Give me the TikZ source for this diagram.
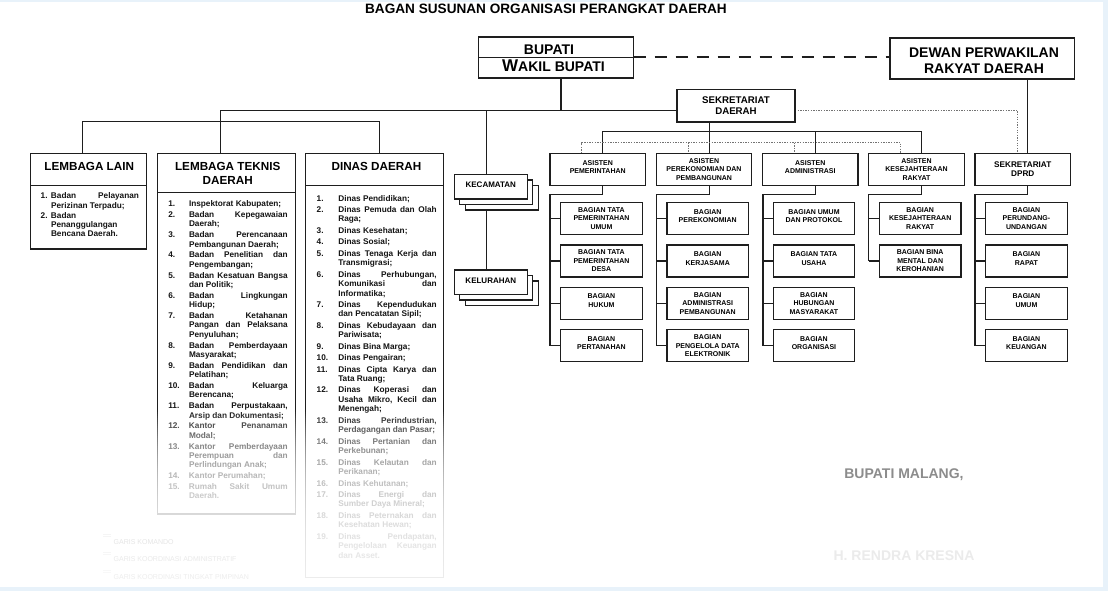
\documentclass[tikz,border=0pt]{standalone}
\usepackage{fontspec}
\setmainfont{Liberation Sans}
\definecolor{linec}{HTML}{1E1E1E}
\definecolor{framec}{HTML}{E8F2FA}
\pgfdeclarelayer{back}
\pgfdeclarelayer{bg}
\pgfsetlayers{back,bg,main}
\newlength\itemind
\newcommand\itm[2]{\par\hangindent=\itemind\hangafter=1\noindent\makebox[\itemind][l]{#1}#2}
\newcommand\mklist[5]{\parbox[t]{#1}{\fontsize{8.25}{#3}\selectfont\bfseries\setlength\itemind{#2}\setlength\parskip{#4}\setlength\parindent{0pt}#5\par}}
\begin{document}
\begin{tikzpicture}[x=1pt,y=-1pt,
  every node/.style={inner sep=0pt, outer sep=0pt},
  bx/.style={draw=linec, line width=1.2pt, fill=white, align=center, text=black, font=\bfseries\fontsize{7}{8.5}\selectfont},
  asbox/.style={bx, minimum width=95.5pt, minimum height=32.2pt},
  bgbox/.style={bx, minimum width=81.5pt, minimum height=32pt},
  stackbox/.style={draw=linec, line width=1.2pt, fill=white, minimum width=73pt, minimum height=24.5pt, font=\bfseries\fontsize{8}{9.6}\selectfont},
  bigbox/.style={draw=linec, line width=1.3pt, fill=white},
  cn/.style={draw=linec, line width=1.1pt},
  dotl/.style={draw=black!55, line width=0.9pt, dash pattern=on 1.3pt off 1.3pt},
  hdr/.style={font=\bfseries\fontsize{11.7}{14}\selectfont, text=black},
  lst/.style={anchor=base west, text=black!92},
]
% background and frame
\begin{pgfonlayer}{back}
\fill[framec] (0,0) rectangle (1108,591);
\fill[white] (0,2) rectangle (1103,587);
\end{pgfonlayer}
\useasboundingbox (0,0) rectangle (1108,591);

% title
\node[font=\bfseries\fontsize{13.6}{16}\selectfont] (title) at (546,9) {BAGAN SUSUNAN ORGANISASI PERANGKAT DAERAH};

% helper coordinates
\coordinate (bdiv) at (0,57.3);
\coordinate (hy) at (0,110.5);
\coordinate (vbup) at (561,0);
\coordinate (hl) at (220.7,110.5);
\coordinate (h2a) at (82.9,121.7);
\coordinate (h2b) at (379.6,121.7);
\coordinate (vk) at (486.4,0);
\coordinate (hA) at (602.8,131.7);
\coordinate (hD) at (921.55,131.7);
\coordinate (vA) at (602.8,0);
\coordinate (vB) at (709.05,0);
\coordinate (vC) at (815.3,0);
\coordinate (vD) at (921.55,0);
\coordinate (vE) at (1027.8,0);
\coordinate (bkA) at (550,194.3);
\coordinate (bkB) at (656.5,194.3);
\coordinate (bkC) at (763,194.3);
\coordinate (bkD) at (868.5,194.3);
\coordinate (bkE) at (975,194.3);
\coordinate (tA) at (581.8,142.7);
\coordinate (tB) at (688.05,142.7);
\coordinate (tC) at (794.3,142.7);
\coordinate (tD) at (900.55,142.7);
\coordinate (sdp) at (1017.7,110.5);
\coordinate (dv1) at (0,185.3);
\coordinate (dv2) at (0,192.7);

% top boxes
\node[bigbox, line width=1.6pt, minimum width=155pt, minimum height=40.7pt] (bupati) at (556,57.65) {};
\draw[linec, line width=1.3pt] (bupati.west |- bdiv) -- (bupati.east |- bdiv);
\node[font=\bfseries\fontsize{14}{16}\selectfont] (tbup) at (549,49.5) {BUPATI};
\node[font=\bfseries\fontsize{14}{16}\selectfont] (twak) at (553.5,65.5) {{\fontsize{17}{17}\selectfont W}AKIL BUPATI};

\node[bigbox, line width=1.8pt, minimum width=184.8pt, minimum height=40.7pt] (dprd) at (982,58.65) {};
\node[font=\bfseries\fontsize{14}{16.3}\selectfont, align=center] (tdprd) at (984,60.85) {DEWAN PERWAKILAN\\RAKYAT DAERAH};

\node[bx, font=\bfseries\fontsize{9.7}{11.3}\selectfont, minimum width=118pt, minimum height=32.7pt] (sekda) at (736,105.65) {SEKRETARIAT\\DAERAH};

% left column boxes
\node[bigbox, line width=1.2pt, minimum width=116pt, minimum height=95.7pt] (ll) at (88.4,201.15) {};
\node[bigbox, line width=1.2pt, minimum width=138.4pt, minimum height=360.7pt] (lt) at (226.6,333.65) {};
\node[bigbox, line width=1.2pt, minimum width=138.4pt, minimum height=424pt] (dd) at (374.6,365.3) {};
\draw[linec, line width=1.2pt] (ll.west |- dv1) -- (ll.east |- dv1);
\draw[linec, line width=1.2pt] (lt.west |- dv2) -- (lt.east |- dv2);
\draw[linec, line width=1.2pt] (dd.west |- dv1) -- (dd.east |- dv1);
\node[hdr] (hll) at (89.2,166.7) {LEMBAGA LAIN};
\node[hdr, align=center] (hlt) at (227.7,173) {LEMBAGA TEKNIS\\DAERAH};
\node[hdr] (hdd) at (376.4,166.7) {DINAS DAERAH};

\node[lst] (lsll) at (40.7,198.7) {\mklist{98.3pt}{10.3pt}{9.3pt}{1pt}{%
\itm{1.}{Badan\hfill Pelayanan\\Perizinan Terpadu;}%
\itm{2.}{Badan\\Penanggulangan\\Bencana Daerah.}}};

\node[lst] (lslt) at (168.3,206.7) {\mklist{119.4pt}{20.7pt}{9.4pt}{1.4pt}{%
\itm{1.}{Inspektorat Kabupaten;}%
\itm{2.}{Badan\hfill Kepegawaian\\Daerah;}%
\itm{3.}{Badan\hfill Perencanaan\\Pembangunan Daerah;}%
\itm{4.}{Badan\hfill Penelitian\hfill dan\\Pengembangan;}%
\itm{5.}{Badan\hfill Kesatuan\hfill Bangsa\\dan Politik;}%
\itm{6.}{Badan\hfill Lingkungan\\Hidup;}%
\itm{7.}{Badan\hfill Ketahanan\\Pangan\hfill dan\hfill Pelaksana\\Penyuluhan;}%
\itm{8.}{Badan\hfill Pemberdayaan\\Masyarakat;}%
\itm{9.}{Badan\hfill Pendidikan\hfill dan\\Pelatihan;}%
\itm{10.}{Badan\hfill Keluarga\\Berencana;}%
\itm{11.}{Badan\hfill Perpustakaan,\\Arsip dan Dokumentasi;}%
\itm{12.}{Kantor\hfill Penanaman\\Modal;}%
\itm{13.}{Kantor\hfill Pemberdayaan\\Perempuan\hfill dan\\Perlindungan Anak;}%
\itm{14.}{Kantor Perumahan;}%
\itm{15.}{Rumah\hfill Sakit\hfill Umum\\Daerah.}}};

\node[lst] (lsdd) at (316.7,201) {\mklist{120pt}{21.6pt}{9.5pt}{1.9pt}{%
\itm{1.}{Dinas Pendidikan;}%
\itm{2.}{Dinas\hfill Pemuda\hfill dan\hfill Olah\\Raga;}%
\itm{3.}{Dinas Kesehatan;}%
\itm{4.}{Dinas Sosial;}%
\itm{5.}{Dinas\hfill Tenaga\hfill Kerja\hfill dan\\Transmigrasi;}%
\itm{6.}{Dinas\hfill Perhubungan,\\Komunikasi\hfill dan\\Informatika;}%
\itm{7.}{Dinas\hfill Kependudukan\\dan Pencatatan Sipil;}%
\itm{8.}{Dinas\hfill Kebudayaan\hfill dan\\Pariwisata;}%
\itm{9.}{Dinas Bina Marga;}%
\itm{10.}{Dinas Pengairan;}%
\itm{11.}{Dinas\hfill Cipta\hfill Karya\hfill dan\\Tata Ruang;}%
\itm{12.}{Dinas\hfill Koperasi\hfill dan\\Usaha\hfill Mikro,\hfill Kecil\hfill dan\\Menengah;}%
\itm{13.}{Dinas\hfill Perindustrian,\\Perdagangan dan Pasar;}%
\itm{14.}{Dinas\hfill Pertanian\hfill dan\\Perkebunan;}%
\itm{15.}{Dinas\hfill Kelautan\hfill dan\\Perikanan;}%
\itm{16.}{Dinas Kehutanan;}%
\itm{17.}{Dinas\hfill Energi\hfill dan\\Sumber Daya Mineral;}%
\itm{18.}{Dinas\hfill Peternakan\hfill dan\\Kesehatan Hewan;}%
\itm{19.}{Dinas\hfill Pendapatan,\\Pengelolaan\hfill Keuangan\\dan Asset.}}};

% kecamatan / kelurahan stacks
\node[stackbox] (kecc) at (501.8,197.8) {};
\node[stackbox] (kecb) at (496.3,192.3) {};
\node[stackbox, text depth=4pt] (kec) at (490.8,186.8) {KECAMATAN};
\node[stackbox] (kelc) at (501.8,293.15) {};
\node[stackbox] (kelb) at (496.3,287.65) {};
\node[stackbox, text depth=3pt] (kel) at (490.8,282.15) {KELURAHAN};

% asisten boxes
\node[asbox] (asA) at (597.75,169.4) {ASISTEN\\PEMERINTAHAN\\[-3.5pt]\mbox{}};
\node[asbox] (asB) at (704,169.4) {ASISTEN\\PEREKONOMIAN DAN\\PEMBANGUNAN};
\node[asbox] (asC) at (810.25,169.4) {ASISTEN\\ADMINISTRASI\\[-3.5pt]\mbox{}};
\node[asbox] (asD) at (916.5,169.4) {ASISTEN\\KESEJAHTERAAN\\RAKYAT};
\node[asbox, font=\bfseries\fontsize{8.2}{9.3}\selectfont] (asE) at (1022.75,169.4) {SEKRETARIAT\\DPRD};

% bagian boxes
\node[bgbox] (a1) at (601.45,218.5) {BAGIAN TATA\\PEMERINTAHAN\\UMUM};
\node[bgbox] (a2) at (601.45,261) {BAGIAN TATA\\PEMERINTAHAN\\DESA};
\node[bgbox] (a3) at (601.45,303.3) {BAGIAN\\HUKUM\\[-3.5pt]\mbox{}};
\node[bgbox] (a4) at (601.45,345.8) {BAGIAN\\PERTANAHAN\\[-3.5pt]\mbox{}};
\node[bgbox] (b1) at (707.7,218.5) {BAGIAN\\PEREKONOMIAN\\[-3.5pt]\mbox{}};
\node[bgbox] (b2) at (707.7,261) {BAGIAN\\KERJASAMA\\[-3.5pt]\mbox{}};
\node[bgbox] (b3) at (707.7,303.3) {BAGIAN\\ADMINISTRASI\\PEMBANGUNAN};
\node[bgbox] (b4) at (707.7,345.8) {BAGIAN\\PENGELOLA DATA\\ELEKTRONIK};
\node[bgbox] (c1) at (813.95,218.5) {BAGIAN UMUM\\DAN PROTOKOL\\[-3.5pt]\mbox{}};
\node[bgbox] (c2) at (813.95,261) {BAGIAN TATA\\USAHA\\[-3.5pt]\mbox{}};
\node[bgbox] (c3) at (813.95,303.3) {BAGIAN\\HUBUNGAN\\MASYARAKAT};
\node[bgbox] (c4) at (813.95,345.8) {BAGIAN\\ORGANISASI\\[-3.5pt]\mbox{}};
\node[bgbox] (d1) at (920.2,218.5) {BAGIAN\\KESEJAHTERAAN\\RAKYAT};
\node[bgbox] (d2) at (920.2,261) {BAGIAN BINA\\MENTAL DAN\\KEROHANIAN};
\node[bgbox] (e1) at (1026.45,218.5) {BAGIAN\\PERUNDANG-\\UNDANGAN};
\node[bgbox] (e2) at (1026.45,261) {BAGIAN\\RAPAT\\[-3.5pt]\mbox{}};
\node[bgbox] (e3) at (1026.45,303.3) {BAGIAN\\UMUM\\[-3.5pt]\mbox{}};
\node[bgbox] (e4) at (1026.45,345.8) {BAGIAN\\KEUANGAN\\[-3.5pt]\mbox{}};

% connectors (behind boxes)
\begin{pgfonlayer}{bg}
\draw[linec, line width=2.2pt, dash pattern=on 12pt off 9pt] (bupati.east |- bdiv) -- (dprd.west |- bdiv);
\draw[cn] (bupati.south -| vbup) -- (vbup |- hy);
\draw[cn] (lt.north -| hl) -- (hl) -- (sekda.west |- hy);
\draw[cn] (ll.north -| h2a) -- (h2a) -- (h2b) -- (dd.north -| h2b);
\draw[cn] (vk |- hy) -- (kec.north -| vk);
\draw[cn] (kec.south -| vk) -- (kel.north -| vk);
\draw[cn] (asA.north -| hA) -- (hA) -- (hD) -- (asD.north -| hD);
\draw[cn] (sekda.south -| vB) -- (asB.north -| vB);
\draw[cn] (hA -| vC) -- (asC.north -| vC);
\draw[cn] (dprd.south -| vE) -- (asE.north -| vE);
\draw[dotl] (asA.north -| tA) -- (tA) -- (tD) -- (asD.north -| tD);
\draw[dotl] (tB) -- (asB.north -| tB);
\draw[dotl] (tC) -- (asC.north -| tC);
\draw[dotl] (sekda.east |- hy) -- (sdp) -- (asE.north -| sdp);
% brackets
\draw[cn] (asA.south -| vA) |- (bkA) -- (bkA |- a4.west);
\draw[cn] (asB.south -| vB) |- (bkB) -- (bkB |- b4.west);
\draw[cn] (asC.south -| vC) |- (bkC) -- (bkC |- c4.west);
\draw[cn] (asD.south -| vD) |- (bkD) -- (bkD |- d2.west);
\draw[cn] (asE.south -| vE) |- (bkE) -- (bkE |- e4.west);
\foreach \b in {a1,a2,a3,a4} \draw[cn] (bkA |- \b.west) -- (\b.west);
\foreach \b in {b1,b2,b3,b4} \draw[cn] (bkB |- \b.west) -- (\b.west);
\foreach \b in {c1,c2,c3,c4} \draw[cn] (bkC |- \b.west) -- (\b.west);
\foreach \b in {d1,d2} \draw[cn] (bkD |- \b.west) -- (\b.west);
\foreach \b in {e1,e2,e3,e4} \draw[cn] (bkE |- \b.west) -- (\b.west);
\end{pgfonlayer}

% legend
\foreach \yy in {534.5,552.5,570.5} {
  \draw[black!30, line width=0.5pt] (103.3,\yy) -- (110.7,\yy);
  \draw[black!30, line width=0.5pt] (103.3,\yy+2.2) -- (110.7,\yy+2.2);
}
\node[font=\fontsize{7}{8}\selectfont, anchor=west, text=black!85] (lg1) at (113.7,541.7) {GARIS KOMANDO};
\node[font=\fontsize{7}{8}\selectfont, anchor=west, text=black!85] (lg2) at (113.7,559.3) {GARIS KOORDINASI ADMINISTRATIF};
\node[font=\fontsize{7}{8}\selectfont, anchor=west, text=black!85] (lg3) at (113.7,577.3) {GARIS KOORDINASI TINGKAT PIMPINAN};

% fade overlay on the lower left part
\foreach \k in {0,...,87} {
  \pgfmathsetmacro\op{0.95*(1-exp(-(2*\k+1)/50))}
  \fill[white, fill opacity=\op] (0,410+2*\k) rectangle (790,412+2*\k);
}

% signature
\node[font=\bfseries\fontsize{14}{16}\selectfont, text=black!45] (bm) at (904,475) {BUPATI MALANG,};
\node[font=\bfseries\fontsize{14}{16}\selectfont, text=black!8] (rk) at (904,556) {H. RENDRA KRESNA};
\end{tikzpicture}
\end{document}
